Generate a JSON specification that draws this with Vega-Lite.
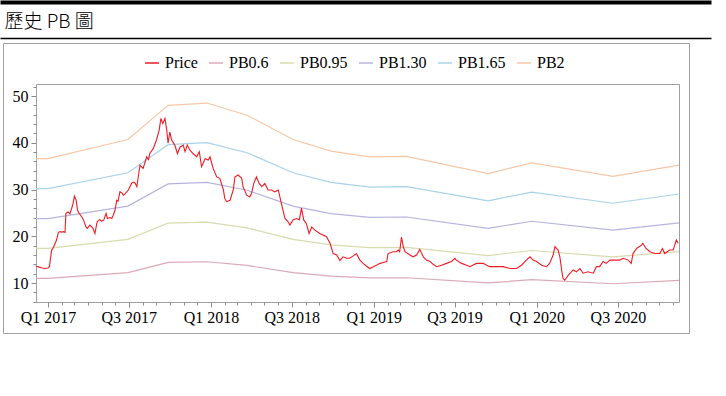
{
  "$schema": "https://vega.github.io/schema/vega-lite/v6.json",
  "width": 686,
  "height": 290,
  "autosize": "none",
  "padding": {"left": 3, "top": 43, "right": 37, "bottom": 63},
  "background": "white",
  "config": {"view": {"stroke": "#a0a0a0", "strokeWidth": 1}, "font": "Liberation Serif"},
  "datasets": {
    "price": [
      {"date":"2016-12-05","price":13.6},{"date":"2016-12-12","price":13.4},{"date":"2016-12-19","price":13.2},{"date":"2016-12-25","price":13.1},
      {"date":"2017-01-01","price":13.2},{"date":"2017-01-04","price":13.5},{"date":"2017-01-09","price":17.0},{"date":"2017-01-13","price":17.6},
      {"date":"2017-01-17","price":18.5},{"date":"2017-01-20","price":19.2},{"date":"2017-01-24","price":20.8},{"date":"2017-01-28","price":21.0},
      {"date":"2017-02-01","price":20.9},{"date":"2017-02-05","price":21.0},{"date":"2017-02-08","price":20.8},{"date":"2017-02-10","price":24.9},
      {"date":"2017-02-15","price":25.2},{"date":"2017-02-19","price":24.8},{"date":"2017-02-23","price":26.0},{"date":"2017-02-26","price":27.0},
      {"date":"2017-03-01","price":28.6},{"date":"2017-03-05","price":27.7},{"date":"2017-03-08","price":25.6},{"date":"2017-03-11","price":25.0},
      {"date":"2017-03-15","price":24.5},{"date":"2017-03-21","price":23.6},{"date":"2017-03-27","price":22.0},{"date":"2017-03-30","price":21.7},
      {"date":"2017-04-05","price":22.4},{"date":"2017-04-11","price":21.8},{"date":"2017-04-16","price":20.6},{"date":"2017-04-21","price":23.1},
      {"date":"2017-04-27","price":23.6},{"date":"2017-05-01","price":23.2},{"date":"2017-05-06","price":23.5},{"date":"2017-05-11","price":24.9},
      {"date":"2017-05-14","price":23.8},{"date":"2017-05-20","price":24.0},{"date":"2017-05-24","price":23.8},{"date":"2017-05-27","price":24.5},
      {"date":"2017-05-31","price":25.5},{"date":"2017-06-04","price":27.7},{"date":"2017-06-07","price":27.5},{"date":"2017-06-11","price":29.5},
      {"date":"2017-06-15","price":29.3},{"date":"2017-06-19","price":28.8},{"date":"2017-06-22","price":29.0},{"date":"2017-06-30","price":29.9},
      {"date":"2017-07-07","price":31.3},{"date":"2017-07-11","price":31.6},{"date":"2017-07-15","price":31.4},{"date":"2017-07-19","price":30.6},
      {"date":"2017-07-26","price":35.2},{"date":"2017-08-02","price":34.5},{"date":"2017-08-10","price":37.0},{"date":"2017-08-14","price":36.4},
      {"date":"2017-08-17","price":37.7},{"date":"2017-08-25","price":38.8},{"date":"2017-09-01","price":40.6},{"date":"2017-09-07","price":42.7},
      {"date":"2017-09-11","price":45.2},{"date":"2017-09-15","price":44.1},{"date":"2017-09-20","price":45.2},{"date":"2017-09-24","price":42.7},
      {"date":"2017-09-27","price":39.9},{"date":"2017-10-01","price":42.3},{"date":"2017-10-05","price":40.6},{"date":"2017-10-12","price":39.5},
      {"date":"2017-10-18","price":37.7},{"date":"2017-10-24","price":39.1},{"date":"2017-10-31","price":39.5},{"date":"2017-11-04","price":38.1},
      {"date":"2017-11-09","price":39.5},{"date":"2017-11-15","price":38.4},{"date":"2017-11-22","price":37.7},{"date":"2017-11-30","price":37.0},
      {"date":"2017-12-06","price":38.1},{"date":"2017-12-11","price":34.9},{"date":"2017-12-19","price":36.6},{"date":"2017-12-26","price":36.3},
      {"date":"2017-12-30","price":37.0},{"date":"2018-01-06","price":34.5},{"date":"2018-01-14","price":32.7},{"date":"2018-01-21","price":32.4},
      {"date":"2018-01-29","price":29.9},{"date":"2018-02-01","price":28.1},{"date":"2018-02-05","price":27.4},{"date":"2018-02-13","price":27.7},
      {"date":"2018-02-20","price":29.9},{"date":"2018-02-24","price":32.7},{"date":"2018-03-03","price":33.1},{"date":"2018-03-11","price":32.4},
      {"date":"2018-03-14","price":30.6},{"date":"2018-03-22","price":28.8},{"date":"2018-03-29","price":28.4},{"date":"2018-04-02","price":29.2},
      {"date":"2018-04-07","price":31.3},{"date":"2018-04-13","price":32.7},{"date":"2018-04-19","price":31.3},{"date":"2018-04-25","price":30.6},
      {"date":"2018-05-02","price":31.3},{"date":"2018-05-09","price":29.9},{"date":"2018-05-17","price":29.9},{"date":"2018-05-24","price":29.5},
      {"date":"2018-06-01","price":29.9},{"date":"2018-06-08","price":27.0},{"date":"2018-06-16","price":23.8},{"date":"2018-06-23","price":23.1},
      {"date":"2018-06-27","price":22.4},{"date":"2018-07-04","price":23.5},{"date":"2018-07-12","price":23.8},{"date":"2018-07-18","price":23.5},
      {"date":"2018-07-23","price":26.0},{"date":"2018-07-28","price":23.5},{"date":"2018-08-03","price":22.7},{"date":"2018-08-09","price":20.6},
      {"date":"2018-08-15","price":22.0},{"date":"2018-08-22","price":21.3},{"date":"2018-09-02","price":20.6},{"date":"2018-09-17","price":19.9},
      {"date":"2018-09-25","price":18.5},{"date":"2018-10-02","price":16.3},{"date":"2018-10-10","price":16.0},{"date":"2018-10-17","price":14.8},
      {"date":"2018-10-24","price":15.6},{"date":"2018-11-01","price":15.3},{"date":"2018-11-08","price":15.3},{"date":"2018-11-16","price":15.8},
      {"date":"2018-11-23","price":16.3},{"date":"2018-12-01","price":14.9},{"date":"2018-12-08","price":14.2},{"date":"2018-12-16","price":13.6},
      {"date":"2018-12-23","price":13.1},{"date":"2018-12-31","price":13.5},{"date":"2019-01-07","price":13.8},{"date":"2019-01-15","price":14.2},
      {"date":"2019-01-22","price":14.4},{"date":"2019-01-30","price":14.6},{"date":"2019-02-02","price":16.3},{"date":"2019-02-13","price":16.7},
      {"date":"2019-02-21","price":16.7},{"date":"2019-02-25","price":17.05},{"date":"2019-02-28","price":16.7},{"date":"2019-03-04","price":19.8},
      {"date":"2019-03-08","price":17.8},{"date":"2019-03-12","price":16.7},{"date":"2019-03-23","price":16.0},{"date":"2019-03-30","price":15.6},
      {"date":"2019-04-07","price":16.0},{"date":"2019-04-14","price":17.2},{"date":"2019-04-22","price":15.6},{"date":"2019-04-29","price":14.9},
      {"date":"2019-05-07","price":14.6},{"date":"2019-05-14","price":14.0},{"date":"2019-05-22","price":13.5},{"date":"2019-06-02","price":13.8},
      {"date":"2019-06-13","price":14.2},{"date":"2019-06-24","price":14.6},{"date":"2019-07-02","price":15.3},{"date":"2019-07-05","price":14.9},
      {"date":"2019-07-17","price":14.2},{"date":"2019-07-28","price":13.8},{"date":"2019-08-04","price":13.5},{"date":"2019-08-19","price":14.2},
      {"date":"2019-09-03","price":14.2},{"date":"2019-09-11","price":13.8},{"date":"2019-09-18","price":13.5},{"date":"2019-10-03","price":13.5},
      {"date":"2019-10-18","price":13.5},{"date":"2019-11-02","price":13.1},{"date":"2019-11-17","price":13.1},{"date":"2019-11-28","price":13.8},
      {"date":"2019-12-09","price":14.9},{"date":"2019-12-17","price":15.6},{"date":"2019-12-24","price":14.9},{"date":"2020-01-01","price":14.6},
      {"date":"2020-01-12","price":13.8},{"date":"2020-01-23","price":13.5},{"date":"2020-01-30","price":14.2},{"date":"2020-02-07","price":16.0},
      {"date":"2020-02-11","price":17.8},{"date":"2020-02-18","price":17.05},{"date":"2020-02-22","price":15.6},{"date":"2020-02-26","price":12.8},
      {"date":"2020-02-29","price":11.0},{"date":"2020-03-04","price":10.6},{"date":"2020-03-12","price":11.7},{"date":"2020-03-23","price":12.8},
      {"date":"2020-03-30","price":12.4},{"date":"2020-04-07","price":13.1},{"date":"2020-04-14","price":12.1},{"date":"2020-04-25","price":12.4},
      {"date":"2020-05-07","price":12.1},{"date":"2020-05-14","price":13.5},{"date":"2020-05-21","price":13.5},{"date":"2020-05-29","price":14.6},
      {"date":"2020-06-05","price":14.2},{"date":"2020-06-13","price":14.9},{"date":"2020-06-24","price":14.9},{"date":"2020-07-05","price":14.9},
      {"date":"2020-07-13","price":15.3},{"date":"2020-07-24","price":14.9},{"date":"2020-07-31","price":14.2},{"date":"2020-08-04","price":16.3},
      {"date":"2020-08-12","price":17.4},{"date":"2020-08-23","price":18.1},{"date":"2020-08-26","price":18.5},{"date":"2020-09-02","price":17.4},
      {"date":"2020-09-11","price":16.7},{"date":"2020-09-22","price":16.3},{"date":"2020-10-03","price":16.3},{"date":"2020-10-09","price":17.4},
      {"date":"2020-10-14","price":16.3},{"date":"2020-10-25","price":17.05},{"date":"2020-11-02","price":17.05},{"date":"2020-11-09","price":19.2},
      {"date":"2020-11-13","price":18.5}
    ],
    "pb": [
      {"date":"2016-12-05","series":"PB0.6","value":10.98},{"date":"2016-12-05","series":"PB0.95","value":17.39},{"date":"2016-12-05","series":"PB1.30","value":23.79},{"date":"2016-12-05","series":"PB1.65","value":30.2},{"date":"2016-12-05","series":"PB2","value":36.6},
      {"date":"2017-01-01","series":"PB0.6","value":10.98},{"date":"2017-01-01","series":"PB0.95","value":17.39},{"date":"2017-01-01","series":"PB1.30","value":23.79},{"date":"2017-01-01","series":"PB1.65","value":30.2},{"date":"2017-01-01","series":"PB2","value":36.6},
      {"date":"2017-06-29","series":"PB0.6","value":12.21},{"date":"2017-06-29","series":"PB0.95","value":19.33},{"date":"2017-06-29","series":"PB1.30","value":26.46},{"date":"2017-06-29","series":"PB1.65","value":33.58},{"date":"2017-06-29","series":"PB2","value":40.7},
      {"date":"2017-09-27","series":"PB0.6","value":14.4},{"date":"2017-09-27","series":"PB0.95","value":22.8},{"date":"2017-09-27","series":"PB1.30","value":31.2},{"date":"2017-09-27","series":"PB1.65","value":39.6},{"date":"2017-09-27","series":"PB2","value":48.0},
      {"date":"2017-12-23","series":"PB0.6","value":14.55},{"date":"2017-12-23","series":"PB0.95","value":23.04},{"date":"2017-12-23","series":"PB1.30","value":31.53},{"date":"2017-12-23","series":"PB1.65","value":40.01},{"date":"2017-12-23","series":"PB2","value":48.5},
      {"date":"2018-03-23","series":"PB0.6","value":13.77},{"date":"2018-03-23","series":"PB0.95","value":21.8},{"date":"2018-03-23","series":"PB1.30","value":29.84},{"date":"2018-03-23","series":"PB1.65","value":37.87},{"date":"2018-03-23","series":"PB2","value":45.9},
      {"date":"2018-07-04","series":"PB0.6","value":12.21},{"date":"2018-07-04","series":"PB0.95","value":19.33},{"date":"2018-07-04","series":"PB1.30","value":26.46},{"date":"2018-07-04","series":"PB1.65","value":33.58},{"date":"2018-07-04","series":"PB2","value":40.7},
      {"date":"2018-09-27","series":"PB0.6","value":11.46},{"date":"2018-09-27","series":"PB0.95","value":18.15},{"date":"2018-09-27","series":"PB1.30","value":24.83},{"date":"2018-09-27","series":"PB1.65","value":31.52},{"date":"2018-09-27","series":"PB2","value":38.2},
      {"date":"2018-12-23","series":"PB0.6","value":11.1},{"date":"2018-12-23","series":"PB0.95","value":17.58},{"date":"2018-12-23","series":"PB1.30","value":24.05},{"date":"2018-12-23","series":"PB1.65","value":30.53},{"date":"2018-12-23","series":"PB2","value":37.0},
      {"date":"2019-03-15","series":"PB0.6","value":11.13},{"date":"2019-03-15","series":"PB0.95","value":17.62},{"date":"2019-03-15","series":"PB1.30","value":24.12},{"date":"2019-03-15","series":"PB1.65","value":30.61},{"date":"2019-03-15","series":"PB2","value":37.1},
      {"date":"2019-09-14","series":"PB0.6","value":10.02},{"date":"2019-09-14","series":"PB0.95","value":15.87},{"date":"2019-09-14","series":"PB1.30","value":21.71},{"date":"2019-09-14","series":"PB1.65","value":27.56},{"date":"2019-09-14","series":"PB2","value":33.4},
      {"date":"2019-12-21","series":"PB0.6","value":10.71},{"date":"2019-12-21","series":"PB0.95","value":16.96},{"date":"2019-12-21","series":"PB1.30","value":23.21},{"date":"2019-12-21","series":"PB1.65","value":29.45},{"date":"2019-12-21","series":"PB2","value":35.7},
      {"date":"2020-06-20","series":"PB0.6","value":9.84},{"date":"2020-06-20","series":"PB0.95","value":15.58},{"date":"2020-06-20","series":"PB1.30","value":21.32},{"date":"2020-06-20","series":"PB1.65","value":27.06},{"date":"2020-06-20","series":"PB2","value":32.8},
      {"date":"2020-11-15","series":"PB0.6","value":10.56},{"date":"2020-11-15","series":"PB0.95","value":16.72},{"date":"2020-11-15","series":"PB1.30","value":22.88},{"date":"2020-11-15","series":"PB1.65","value":29.04},{"date":"2020-11-15","series":"PB2","value":35.2}
    ]
  },
  "layer": [
    {
      "data": {"name": "pb"},
      "mark": {"type": "line", "strokeWidth": 1.2},
      "encoding": {
        "x": {"field": "date", "type": "temporal",
          "scale": {"domain": [{"year": 2016, "month": 12, "date": 5}, {"year": 2020, "month": 11, "date": 15}], "range": [33, 676], "nice": false},
          "axis": {"orient": "bottom", "offset": -31, "tickCount": {"interval": "month", "step": 6}, "format": "Q%q %Y", "labelFont": "Liberation Serif", "labelFontSize": 16, "labelColor": "#000", "tickColor": "#8c8c8c", "tickSize": 5, "domainColor": "#a0a0a0", "grid": false, "title": null, "labelPadding": 2, "labelFlush": false, "labelOverlap": false}},
        "y": {"field": "value", "type": "quantitative",
          "scale": {"domain": [5.94, 52.57], "range": [259, 41], "nice": false, "zero": false},
          "axis": {"orient": "left", "offset": -33, "values": [10, 20, 30, 40, 50], "labelFont": "Liberation Serif", "labelFontSize": 16, "labelColor": "#000", "tickColor": "#8c8c8c", "tickSize": 5, "domainColor": "#a0a0a0", "grid": false, "title": null, "labelPadding": 3}},
        "color": {"field": "series", "type": "nominal",
          "scale": {"domain": ["Price", "PB0.6", "PB0.95", "PB1.30", "PB1.65", "PB2"], "range": ["#ee1c24", "#dca9b6", "#d8dbae", "#b5b4df", "#a9d3ea", "#f6c7a6"]},
          "legend": {"orient": "none", "legendX": 141, "legendY": 12, "direction": "horizontal", "gridAlign": "none", "title": null, "symbolType": "stroke", "symbolSize": 196, "symbolStrokeWidth": 1.5, "labelFont": "Liberation Serif", "labelFontSize": 16, "labelColor": "#000", "labelOffset": 5, "columnPadding": 8, "padding": 0}}
      }
    },
    {
      "data": {"name": "price"},
      "mark": {"type": "line", "strokeWidth": 1.1},
      "encoding": {
        "x": {"field": "date", "type": "temporal",
          "scale": {"domain": [{"year": 2016, "month": 12, "date": 5}, {"year": 2020, "month": 11, "date": 15}], "range": [33, 676], "nice": false},
          "axis": {"orient": "top", "offset": -41, "ticks": false, "labels": false, "domainColor": "#a0a0a0", "grid": false, "title": null}},
        "y": {"field": "price", "type": "quantitative",
          "scale": {"domain": [5.94, 52.57], "range": [259, 41], "nice": false, "zero": false},
          "axis": {"orient": "right", "offset": -10, "ticks": false, "labels": false, "domainColor": "#a0a0a0", "grid": false, "title": null}},
        "color": {"datum": "Price"}
      }
    },
    {
      "data": {"name": "price"},
      "mark": {"type": "point", "opacity": 0},
      "encoding": {
        "x": {"field": "date", "type": "temporal",
          "scale": {"domain": [{"year": 2016, "month": 12, "date": 5}, {"year": 2020, "month": 11, "date": 15}], "range": [33, 676], "nice": false},
          "axis": {"orient": "bottom", "offset": -31, "tickCount": {"interval": "month", "step": 1}, "labels": false, "domain": false, "tickColor": "#8c8c8c", "tickSize": 3, "grid": false, "title": null}},
        "y": {"field": "price", "type": "quantitative",
          "scale": {"domain": [5.94, 52.57], "range": [259, 41], "nice": false, "zero": false},
          "axis": {"orient": "left", "offset": -33, "values": [6, 8, 12, 14, 16, 18, 22, 24, 26, 28, 32, 34, 36, 38, 42, 44, 46, 48, 52], "labels": false, "domain": false, "tickColor": "#8c8c8c", "tickSize": 3, "grid": false, "title": null}}
      }
    },
    {
      "data": {"name": "price"},
      "mark": {"type": "point", "opacity": 0},
      "encoding": {
        "x": {"field": "date", "type": "temporal",
          "scale": {"domain": [{"year": 2016, "month": 12, "date": 5}, {"year": 2020, "month": 11, "date": 15}], "range": [-3, 708], "nice": false},
          "axis": {"orient": "top", "offset": 5, "ticks": false, "labels": false, "domainColor": "#000", "domainWidth": 1.5, "grid": false,
            "title": "歷史 PB 圖", "titleFont": "Noto Sans CJK TC", "titleFontSize": 19, "titleFontWeight": 300, "titleColor": "#000",
            "titleAnchor": "start", "titleAlign": "left", "titleBaseline": "alphabetic", "titleX": 1, "titleY": -11}}
      }
    },
    {
      "data": {"name": "price"},
      "mark": {"type": "point", "opacity": 0},
      "encoding": {
        "x": {"field": "date", "type": "temporal",
          "scale": {"domain": [{"year": 2016, "month": 12, "date": 5}, {"year": 2020, "month": 11, "date": 15}], "range": [-3, 708], "nice": false},
          "axis": {"orient": "top", "offset": 41, "ticks": false, "labels": false, "domainColor": "#000", "domainWidth": 4, "grid": false, "title": null}}
      }
    }
  ],
  "resolve": {"scale": {"x": "independent"}, "axis": {"x": "independent", "y": "independent"}}
}
